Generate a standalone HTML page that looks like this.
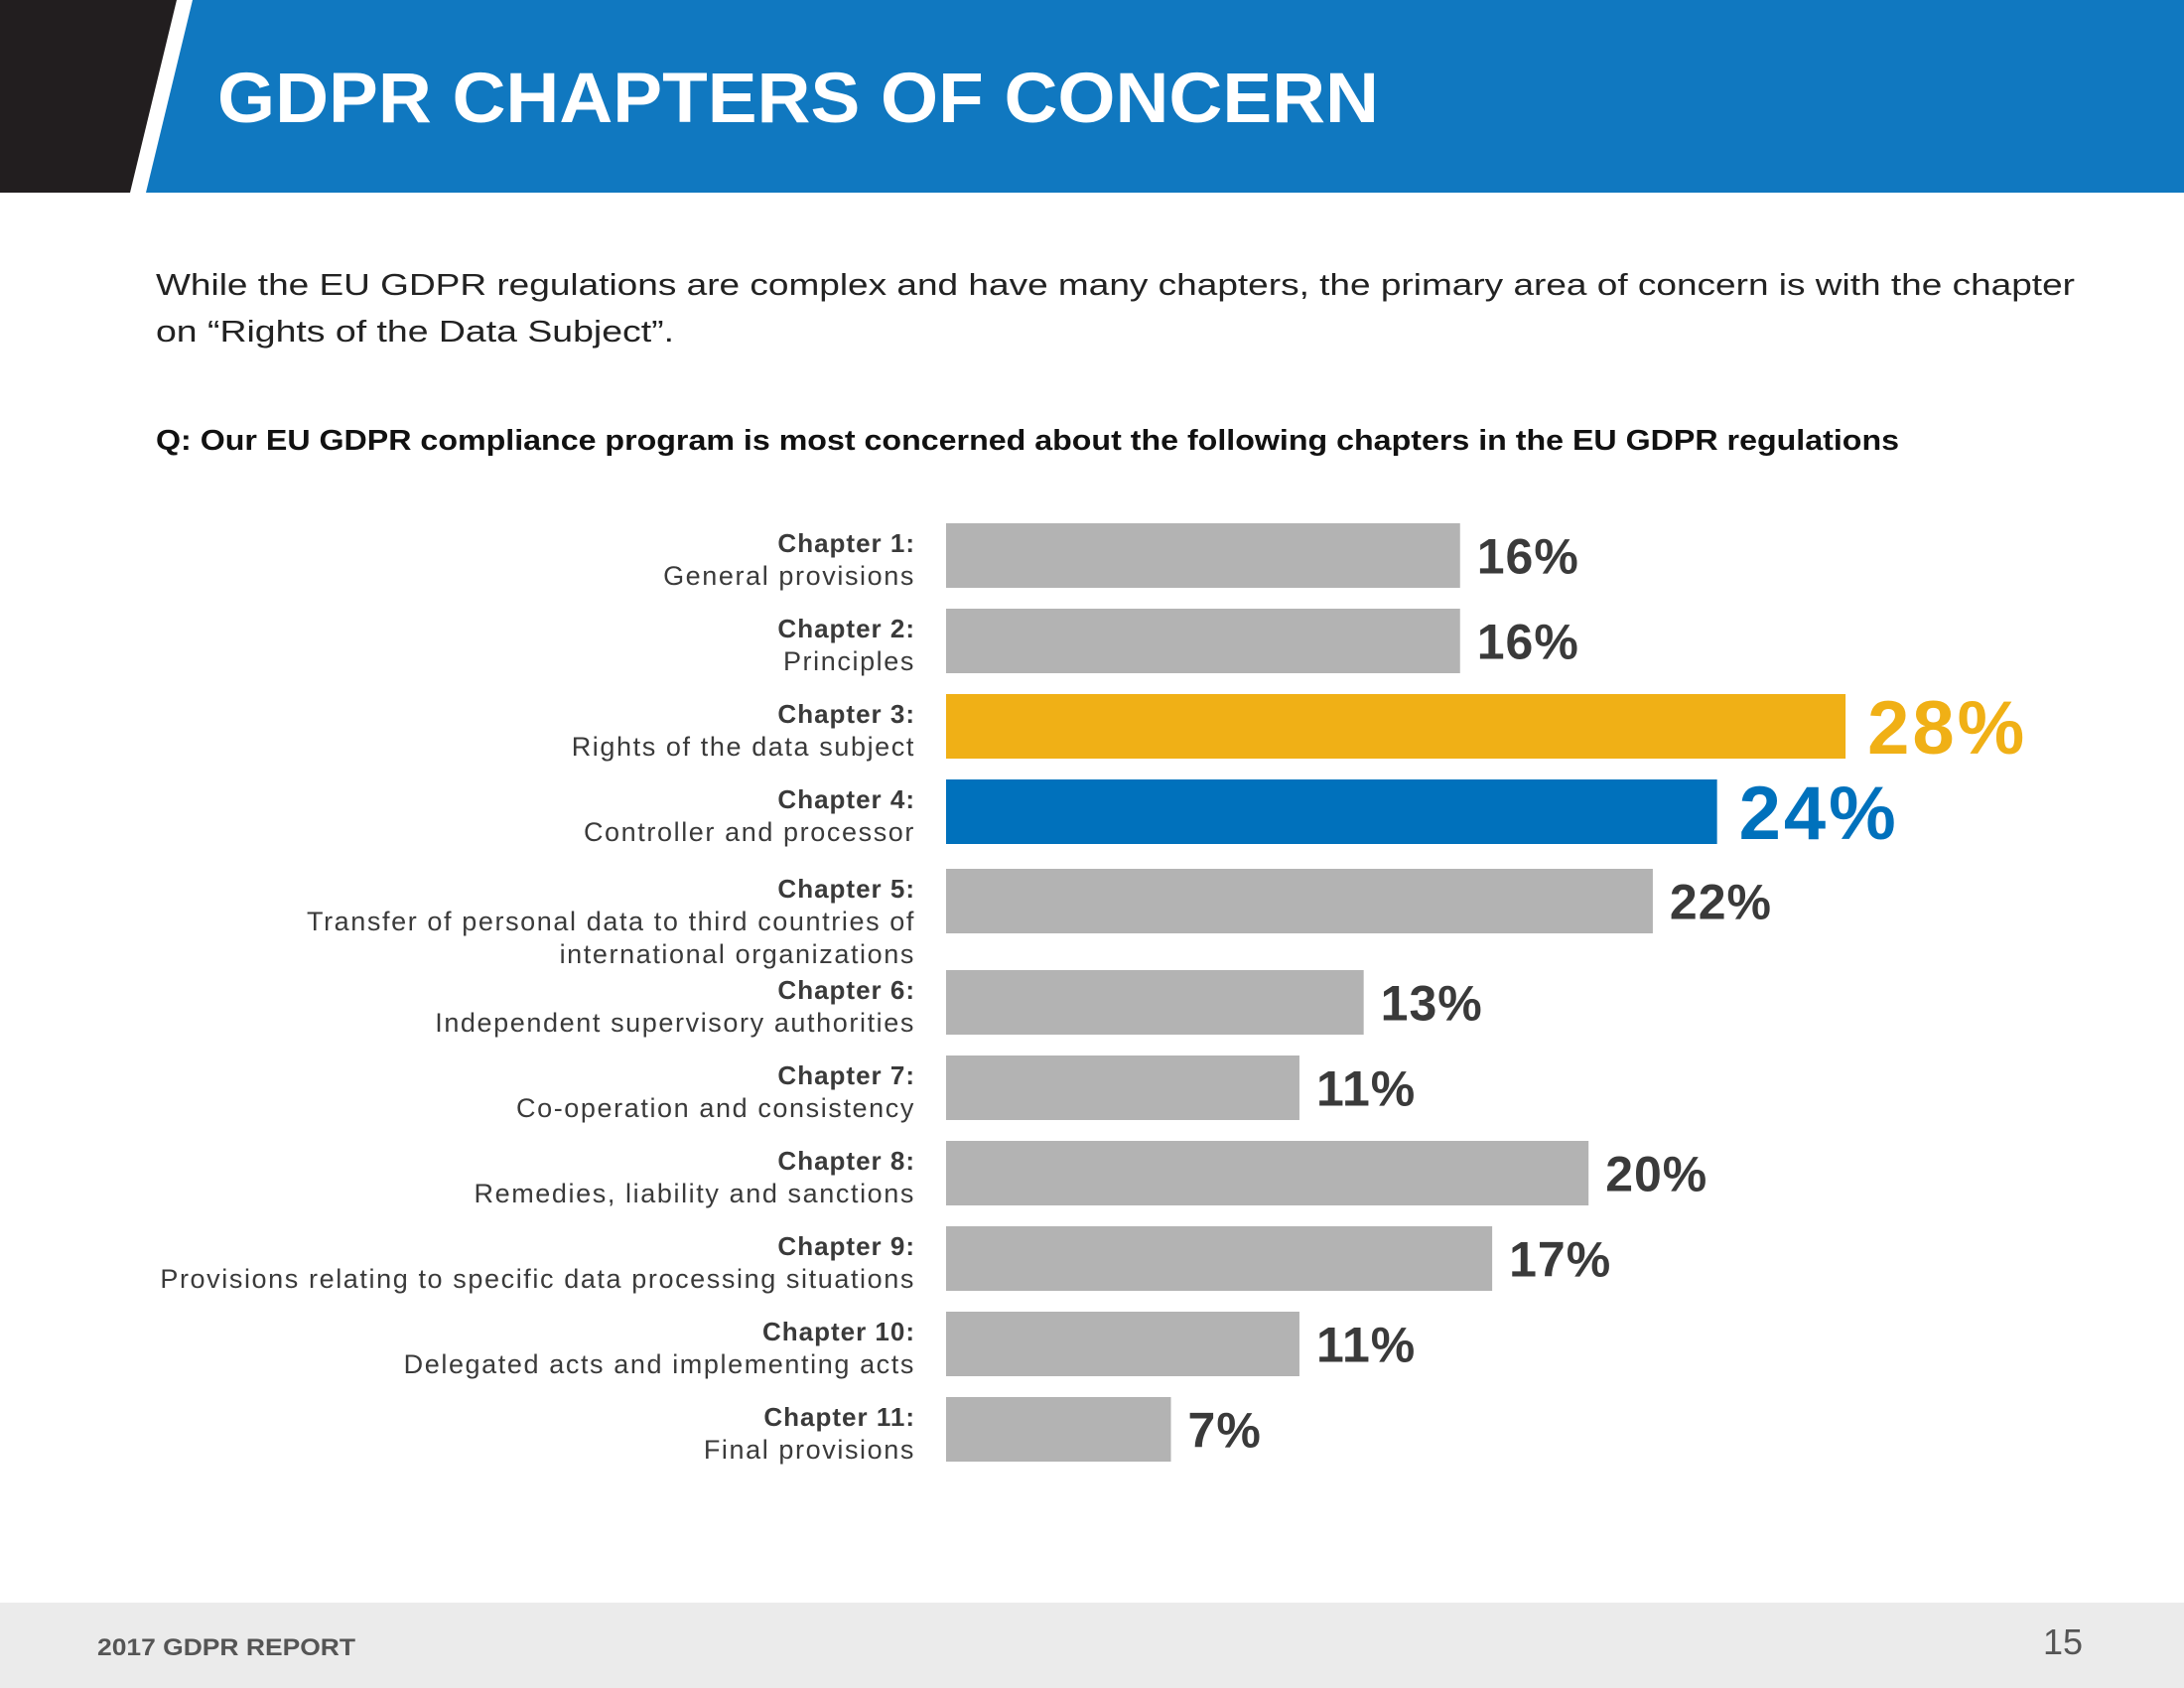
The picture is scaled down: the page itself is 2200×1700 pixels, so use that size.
<!DOCTYPE html>
<html><head><meta charset="utf-8"><style>
html,body{margin:0;padding:0;background:#fff}
svg{display:block}
text{font-family:"Liberation Sans",sans-serif}
</style></head><body>
<svg id="chart" width="2200" height="1700" viewBox="0 0 2200 1700">
<rect x="0" y="0" width="2200" height="1700" fill="#ffffff"/>
<polygon points="0,0 178,0 131,194 0,194" fill="#221e1f"/>
<polygon points="194,0 2200,0 2200,194 147,194" fill="#1078c0"/>
<text x="219" y="123" font-size="71" font-weight="bold" fill="#ffffff" textLength="1170" lengthAdjust="spacingAndGlyphs">GDPR CHAPTERS OF CONCERN</text>
<text x="157" y="297" font-size="31" fill="#222" textLength="1933" lengthAdjust="spacingAndGlyphs">While the EU GDPR regulations are complex and have many chapters, the primary area of concern is with the chapter</text>
<text x="157" y="344" font-size="31" fill="#222" textLength="522" lengthAdjust="spacingAndGlyphs">on “Rights of the Data Subject”.</text>
<text x="157" y="453" font-size="29" font-weight="bold" fill="#111" textLength="1756" lengthAdjust="spacingAndGlyphs">Q: Our EU GDPR compliance program is most concerned about the following chapters in the EU GDPR regulations</text>
<g id="bars"></g>
<rect x="0" y="1614" width="2200" height="86" fill="#ebebeb"/>
<text x="98" y="1667" font-size="24" font-weight="bold" fill="#555" textLength="260" lengthAdjust="spacingAndGlyphs">2017 GDPR REPORT</text>
<text x="2098" y="1666" font-size="36" fill="#555" text-anchor="end">15</text>
</svg>
<script>
const chapterTitles = ["Chapter 1:","Chapter 2:","Chapter 3:","Chapter 4:","Chapter 5:","Chapter 6:","Chapter 7:","Chapter 8:","Chapter 9:","Chapter 10:","Chapter 11:"];
const chapterNames = [["General provisions"],["Principles"],["Rights of the data subject"],["Controller and processor"],["Transfer of personal data to third countries of","international organizations"],["Independent supervisory authorities"],["Co-operation and consistency"],["Remedies, liability and sanctions"],["Provisions relating to specific data processing situations"],["Delegated acts and implementing acts"],["Final provisions"]];
const values = [16,16,28,24,22,13,11,20,17,11,7];
const highlight = ["none","none","gold","blue","none","none","none","none","none","none","none"];

const NS = "http://www.w3.org/2000/svg";
const g = document.getElementById("bars");
const x0 = 953, pxPerPct = 32.36, barH = 65, top0 = 527, step = 86;
const xScale = v => x0 + v * pxPerPct;
function mk(tag, attrs){const e=document.createElementNS(NS,tag);for(const k in attrs)e.setAttribute(k,attrs[k]);return e;}
let extra = 0;
values.forEach((v,i)=>{
  const nLines = chapterNames[i].length;
  if(nLines>1) extra += 4;
  const y = top0 + i*step + extra;
  const col = highlight[i]==="gold" ? "#f0b016" : highlight[i]==="blue" ? "#0071bc" : "#b3b3b3";
  const tcol = highlight[i]==="gold" ? "#f0b016" : highlight[i]==="blue" ? "#0071bc" : "#3a3a3a";
  const r = mk("rect",{x:x0,y:y,width:xScale(v)-x0,height:barH,fill:col});
  
  
  g.appendChild(r);
  const big = highlight[i]!=="none";
  const fs = big ? 76 : 50;
  const t = mk("text",{x:xScale(v)+(big?22:17),y:y+barH/2+fs*0.36,"font-size":fs,"font-weight":"bold",fill:tcol,"letter-spacing":big?3:1});
  t.textContent = v + "%";
  
  
  g.appendChild(t);
  const b0 = nLines>2 ? y+19 : y+29;
  const h = mk("text",{x:922,y:b0,"font-size":26,"font-weight":"bold",fill:"#3a3a3a","text-anchor":"end","letter-spacing":1});
  h.textContent = chapterTitles[i];
  
  
  g.appendChild(h);
  chapterNames[i].forEach((line,j)=>{
    const s = mk("text",{x:922,y:b0+33*(j+1),"font-size":27,fill:"#3a3a3a","text-anchor":"end","letter-spacing":1.6});
    s.textContent = line;
    
    
    g.appendChild(s);
  });
  if(nLines>1) extra += 16;
});
</script>
</body></html>
